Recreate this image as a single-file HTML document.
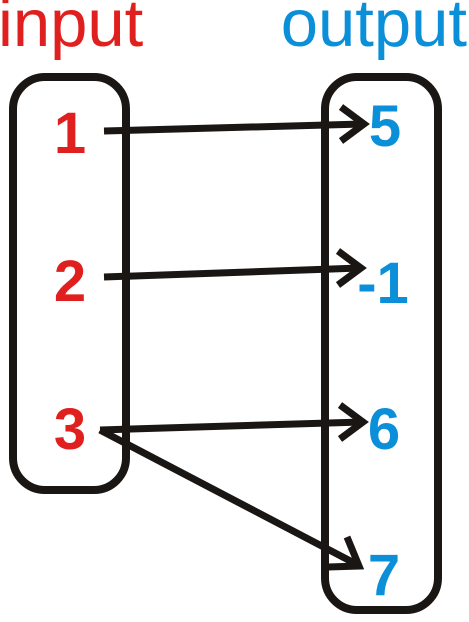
<!DOCTYPE html>
<html><head><meta charset="utf-8"><style>
html,body{margin:0;padding:0;background:#fff;}
svg{display:block;}
text{font-family:"Liberation Sans",Arial,sans-serif;}
</style></head><body>
<svg width="469" height="622" viewBox="0 0 469 622">
<text x="-2" y="46" font-size="67" fill="#e0201f">input</text>
<text x="467" y="46" font-size="67" fill="#0a8fd8" text-anchor="end">output</text>
<rect x="13" y="77" width="113" height="413" rx="32" fill="none" stroke="#1a1614" stroke-width="8"/>
<rect x="325" y="77" width="113" height="533" rx="32" fill="none" stroke="#1a1614" stroke-width="8"/>
<g font-size="58" font-weight="bold" fill="#e0201f" text-anchor="middle">
<text x="70" y="153">1</text>
<text x="70" y="301">2</text>
<text x="70" y="449">3</text>
</g>
<g font-size="58" font-weight="bold" fill="#0a8fd8" text-anchor="middle">
<text x="385" y="146">5</text>
<text x="383" y="303">-1</text>
<text x="384" y="449">6</text>
<text x="384" y="595">7</text>
</g>
<g stroke="#1a1614" stroke-width="7" fill="none">
<line x1="104" y1="131" x2="363" y2="124"/>
<path d="M341,107 L364,124 L341,141"/>
<line x1="104" y1="277" x2="360" y2="268"/>
<path d="M338,251 L361,268 L338,285"/>
<line x1="100" y1="430" x2="362" y2="422"/>
<path d="M340,405 L363,422 L340,439"/>
<line x1="100" y1="430" x2="358" y2="565"/>
<path d="M347,537 L359,566 L328,567"/>
</g>
</svg>
</body></html>
